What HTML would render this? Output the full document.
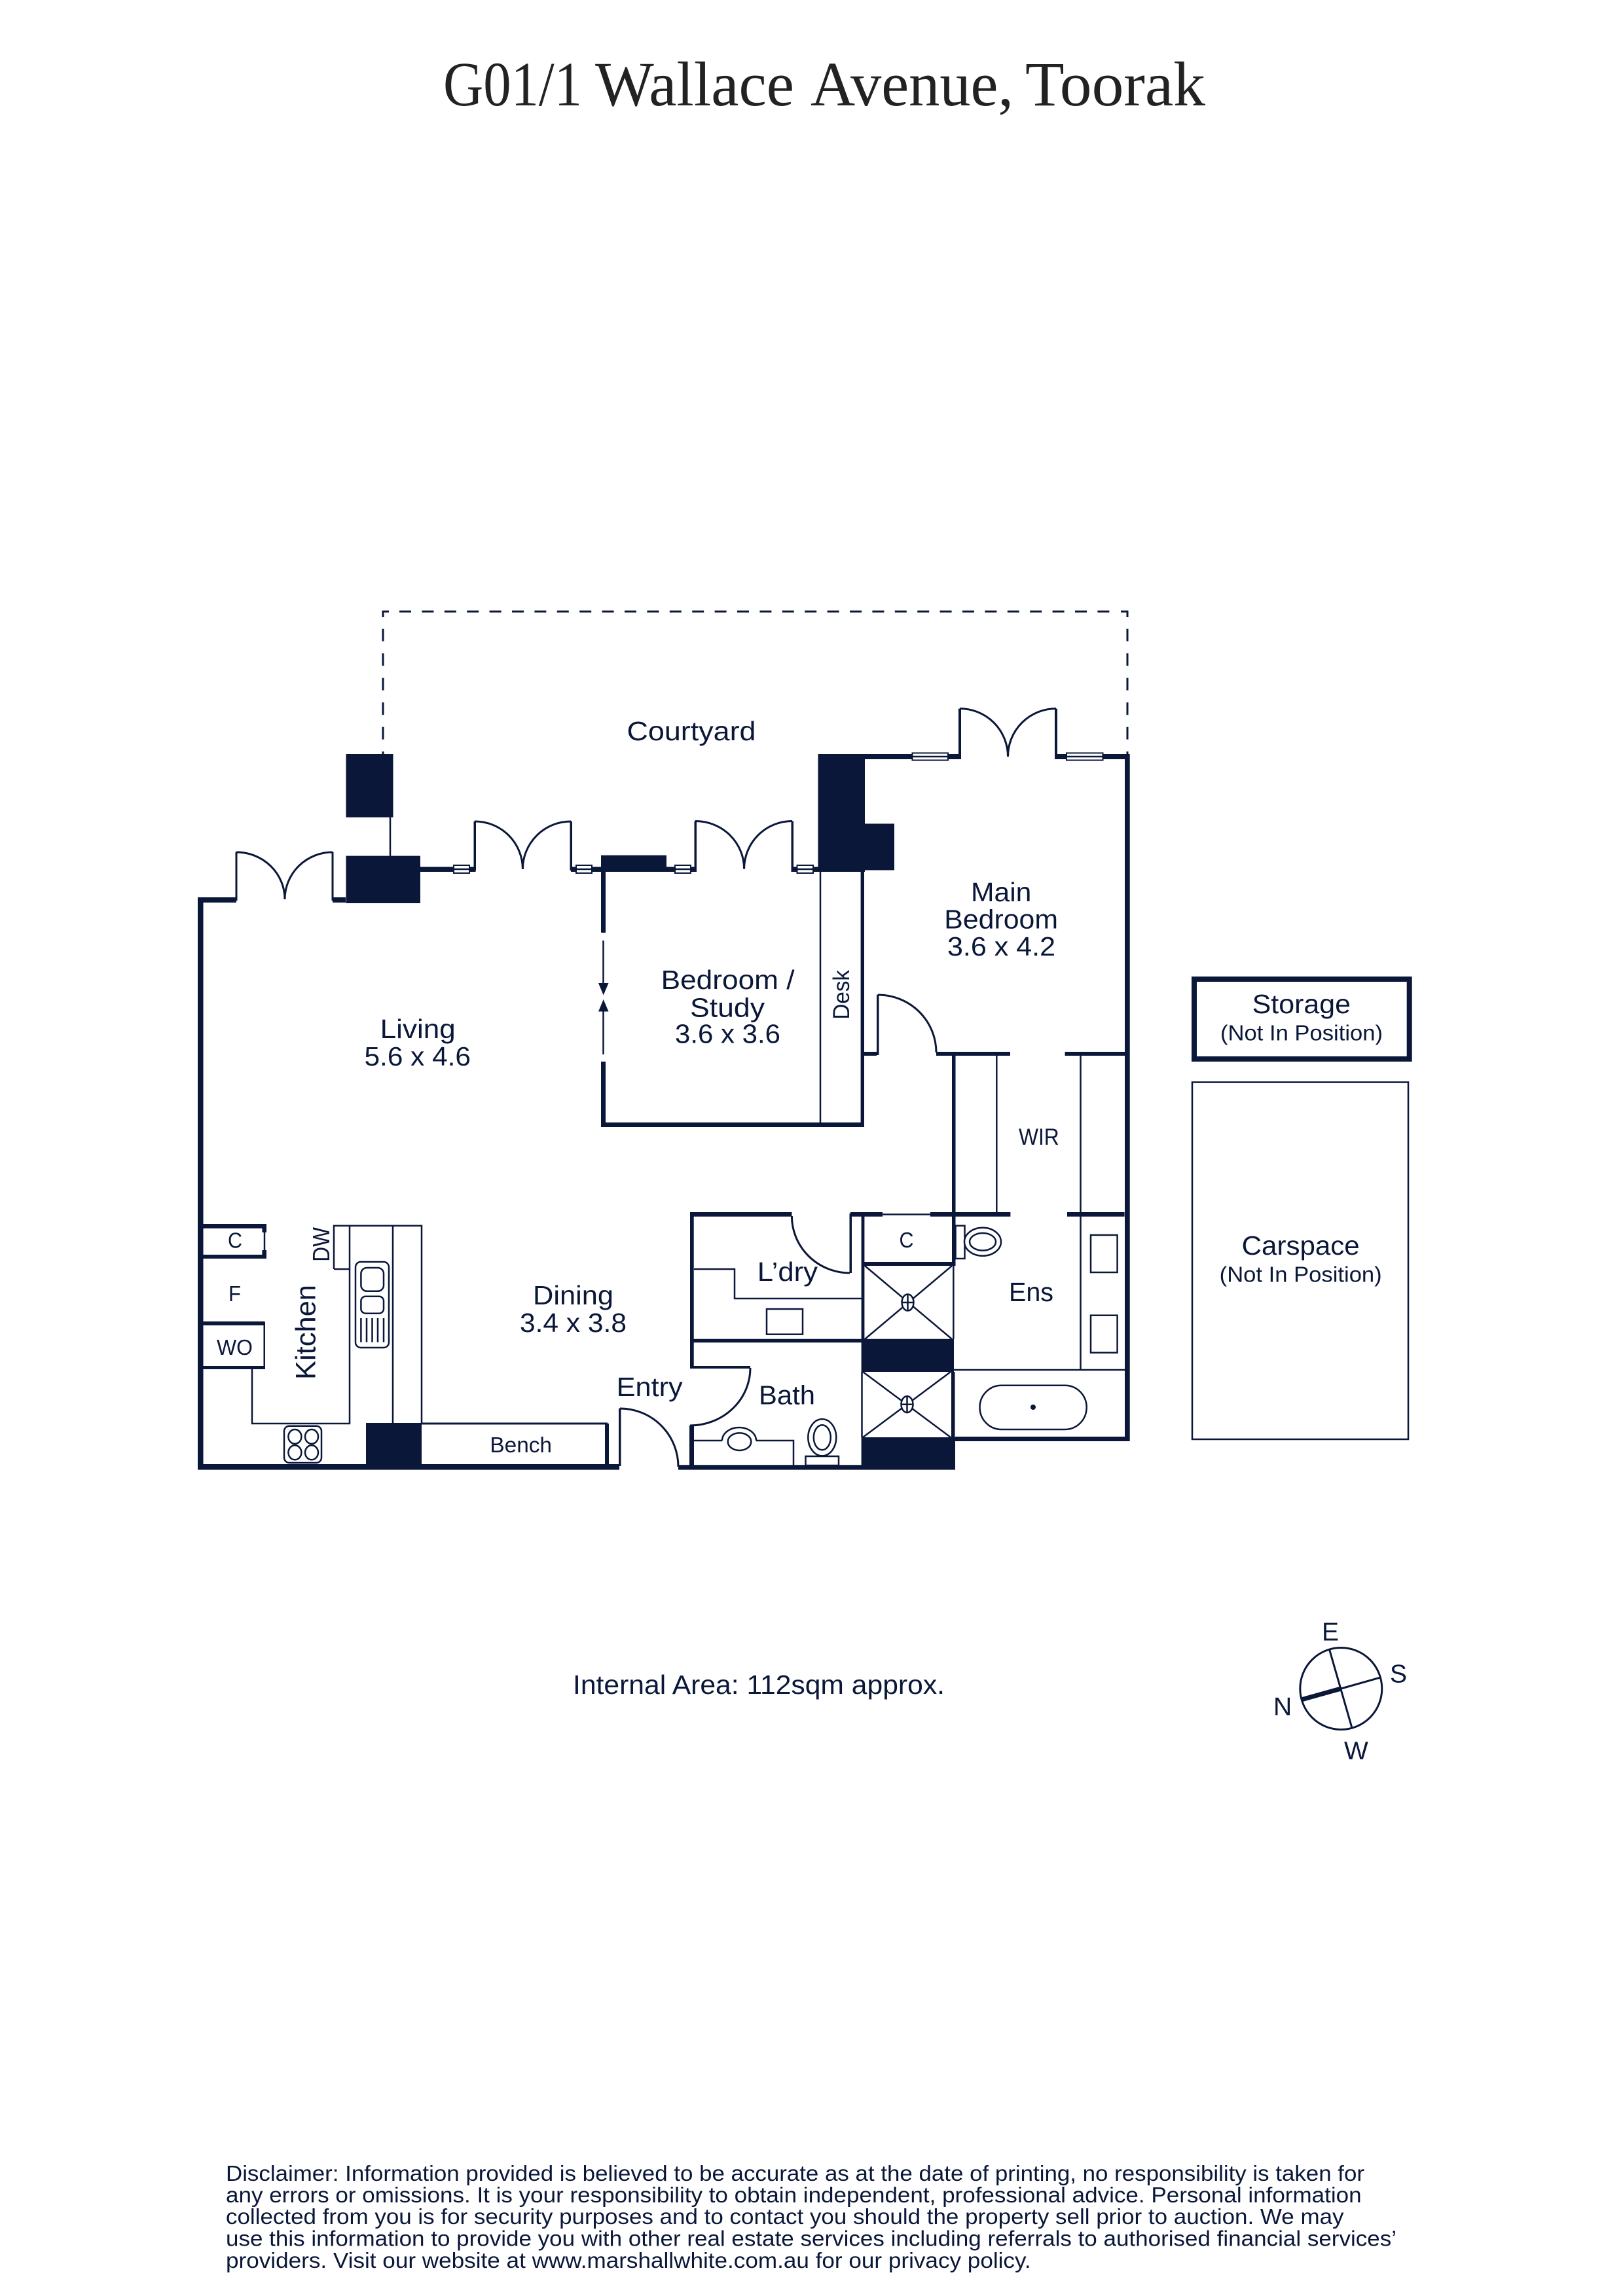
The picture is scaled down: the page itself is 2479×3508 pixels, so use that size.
<!DOCTYPE html>
<html>
<head>
<meta charset="utf-8">
<style>
html,body{margin:0;padding:0;background:#fff;width:2479px;height:3508px;overflow:hidden}
svg{display:block}
text{font-family:"Liberation Sans",sans-serif;fill:#0a1739;font-size:41px}
.w{fill:#0a1739;stroke:none}
.t{fill:none;stroke:#0a1739;stroke-width:2.5}
.m{fill:none;stroke:#0a1739;stroke-width:3}
.win{fill:#fff;stroke:#0a1739;stroke-width:2}
</style>
</head>
<body>
<svg xmlns="http://www.w3.org/2000/svg" width="2479" height="3508" viewBox="0 0 2479 3508">
<rect width="2479" height="3508" fill="#fff"/>

<!-- Title -->
<g style="font-family:'Liberation Serif',serif">
<text x="677" y="161" textLength="212" lengthAdjust="spacingAndGlyphs" style="font-family:'Liberation Serif',serif;font-size:96px;fill:#222">G01/1</text>
<text x="909" y="161" textLength="304" lengthAdjust="spacingAndGlyphs" style="font-family:'Liberation Serif',serif;font-size:96px;fill:#222">Wallace</text>
<text x="1238" y="161" textLength="310" lengthAdjust="spacingAndGlyphs" style="font-family:'Liberation Serif',serif;font-size:96px;fill:#222">Avenue,</text>
<text x="1566" y="161" textLength="275" lengthAdjust="spacingAndGlyphs" style="font-family:'Liberation Serif',serif;font-size:96px;fill:#222">Toorak</text>
</g>

<!-- Courtyard dashed -->
<path d="M610 934.300H1700" fill="none" stroke="#0a1739" stroke-width="3" stroke-dasharray="18 16.400"/>
<path d="M585 960.700V1152M1722 960.700V1152" fill="none" stroke="#0a1739" stroke-width="3" stroke-dasharray="19 18.500"/>
<path d="M585 943V934.300H594M1712 934.300H1722V943" fill="none" stroke="#0a1739" stroke-width="3"/>

<!-- Solid walls and pillars -->
<path class="w" d="
M302 1371H361V1379H310.500V2238H302Z
M302 2237H946V2245.600H302Z
M508 1371H528V1379H508Z
M359.500 1302H362.500V1376H359.500Z
M506.500 1302H509.500V1376H506.500Z
M528.500 1152H600.500V1248.700H528.500Z
M528.500 1307.600H642V1380H528.500Z
M642 1324.500H695V1332H642Z
M715 1324.500H726.500V1332H715Z
M723.500 1255H727V1330H723.500Z
M870.500 1255H874V1330H870.500Z
M872 1324.500H882V1332H872Z
M902 1324.500H918V1332H902Z
M918 1306.700H1018V1332H918Z
M1018 1324.500H1033V1332H1018Z
M1053 1324.500H1064V1332H1053Z
M1060.500 1254.500H1064V1330H1060.500Z
M1208.500 1254.500H1212V1330H1208.500Z
M1208.500 1324.500H1219V1332H1208.500Z
M1240 1324.500H1250V1332H1240Z
M1249.500 1152H1321V1332H1249.500Z
M1321 1258.500H1366V1329.500H1321Z
M1321 1152H1395V1160H1321Z
M1446 1152H1468V1160H1446Z
M1464 1082.600H1468V1156H1464Z
M1611 1082.600H1615V1156H1611Z
M1611 1152H1631V1160H1611Z
M1682 1152H1725.700V1160H1682Z
M1718 1152H1725.700V2202H1718Z
M918 1332H925V1425H918Z
M918 1622H925V1722H918Z
M918 1715H1320V1722H918Z
M1314.600 1332H1320V1722H1314.600Z
M1320 1607H1339V1613H1320Z
M1339 1519.600H1342.500V1612H1339Z
M1430 1607H1543V1613H1430Z
M1626.600 1607H1718V1613H1626.600Z
M1454 1613H1459.500V1934H1454Z
M1054 1852H1209.400V1858.700H1054Z
M1299 1852H1348V1858.700H1299Z
M1421 1852H1543.400V1858.700H1421Z
M1630 1852H1717.600V1858.700H1630Z
M1054 1852H1059.700V2090H1054Z
M1297.500 1854H1301V1945H1297.500Z
M1315.600 1856H1320.400V2046H1315.600Z
M1316 1928H1459.500V1934H1316Z
M1054 2045.700H1316V2051.300H1054Z
M1315.600 2045.700H1457V2096H1315.600Z
M1453 2096H1458.500V2245H1453Z
M1315.600 2196H1459V2245.600H1315.600Z
M1459 2195H1725.700V2202H1459Z
M1054 2087H1146V2091H1054Z
M1053 2178H1060V2245H1053Z
M1036 2238.300H1316V2245.600H1036Z
M945 2151.700H948.500V2240H945Z
M306 1870H407V1876.700H306Z
M306 1917H407V1923H306Z
M400.400 1876H407V1883H400.400Z
M400.400 1910H407V1917H400.400Z
M306 2019H404.500V2025H306Z
M306 2087H404.500V2092H306Z
M402.500 2020H405V2092H402.500Z
M559 2174H644V2245.600H559Z
M924 2175H930V2240H924Z
"/>

<!-- Door arcs -->
<path class="m" d="M361 1302A74 72 0 0 1 435 1374M508 1302A73 72 0 0 0 435 1374"/>
<path class="m" d="M725 1255A73 73 0 0 1 798.400 1328M872 1255A73.600 73 0 0 0 798.400 1328"/>
<path class="m" d="M1062 1254.500A74.500 73 0 0 1 1136.600 1327.700M1210 1254.500A73.400 73 0 0 0 1136.600 1327.700"/>
<path class="m" d="M1466 1082.600A73.500 73.400 0 0 1 1539.500 1156M1613 1082.600A73.500 73.400 0 0 0 1539.500 1156"/>
<path class="m" d="M1341 1520A89 88 0 0 1 1430 1608"/>
<path class="m" d="M1209.400 1858A89 87 0 0 0 1298 1945"/>
<path class="m" d="M1146 2090A92 88 0 0 1 1054 2178"/>
<path class="m" d="M947 2152A89 89 0 0 1 1036 2241"/>

<!-- Windows -->
<rect class="win" x="693" y="1322" width="24" height="12"/><path class="t" d="M693 1328H717"/>
<rect class="win" x="880" y="1322" width="24" height="12"/><path class="t" d="M880 1328H904"/>
<rect class="win" x="1031" y="1322" width="24" height="12"/><path class="t" d="M1031 1328H1055"/>
<rect class="win" x="1217.500" y="1322" width="24.500" height="12"/><path class="t" d="M1217 1328H1242"/>
<rect class="win" x="1393.500" y="1150.500" width="54.500" height="11"/><path class="t" d="M1394 1156H1448"/>
<rect class="win" x="1629" y="1150.500" width="55.500" height="11"/><path class="t" d="M1629 1156H1684"/>

<!-- Thin lines -->
<path class="t" d="M596 1248.700V1307.600"/>
<path class="t" d="M921.500 1437V1503M921.500 1545V1611"/>
<path class="w" d="M914 1502H929.500L921.700 1520.500ZM914 1545.500H929.500L921.700 1527Z"/>
<path class="t" d="M1253 1332V1716"/>
<path class="t" d="M1522.300 1613V1853"/>
<path class="t" d="M1650.500 1613V2093"/>
<path class="t" d="M1348 1855.500H1421"/>
<path class="t" d="M1060 1939H1122V1984H1316"/>
<rect class="t" x="1171" y="2000" width="55" height="38.700"/>
<path class="t" d="M1456.300 1934V2046"/>
<path class="t" d="M1457 2093H1718"/>
<path class="t" d="M1316.500 2096V2196"/>

<!-- Showers -->
<path class="t" d="M1321 1934L1454 2046M1454 1934L1321 2046"/>
<ellipse cx="1386.500" cy="1990" rx="9" ry="12.500" fill="#fff" stroke="#0a1739" stroke-width="2.500"/>
<path class="t" d="M1377.500 1990H1395.500M1386.500 1977.500V2002.500"/>
<path class="t" d="M1318 2096L1452 2196M1452 2096L1318 2196"/>
<ellipse cx="1385.500" cy="2145.700" rx="9" ry="12.500" fill="#fff" stroke="#0a1739" stroke-width="2.500"/>
<path class="t" d="M1376.500 2145.700H1394.500M1385.500 2133V2158"/>

<!-- Ensuite fixtures -->
<rect class="t" x="1459.500" y="1872.700" width="14" height="50.300"/>
<ellipse class="t" cx="1501" cy="1897.300" rx="28" ry="21.500" style="fill:#fff"/>
<ellipse class="t" cx="1501" cy="1897.300" rx="20" ry="13.300"/>
<rect class="t" x="1666" y="1887" width="40.600" height="57"/>
<rect class="t" x="1666" y="2009.700" width="40.600" height="57"/>
<rect class="t" x="1496.500" y="2116.700" width="163.200" height="67.300" rx="33" ry="33.600"/>
<circle cx="1578" cy="2150" r="4" fill="#0a1739"/>

<!-- Bath fixtures -->
<path class="t" d="M1060 2201H1103M1155 2201H1212V2240"/>
<path class="t" d="M1103 2201A26 20 0 0 1 1155 2201"/>
<ellipse class="t" cx="1129.500" cy="2202.700" rx="17.800" ry="13.300"/>
<ellipse class="t" cx="1255.800" cy="2196.300" rx="21.500" ry="28"/>
<ellipse class="t" cx="1255.800" cy="2196.300" rx="13" ry="19"/>
<rect class="t" x="1230.500" y="2225" width="50.500" height="14"/>

<!-- Kitchen -->
<path class="t" d="M404 1883V1910"/>
<path class="t" d="M385 2092V2175H534V1872.700"/>
<path class="t" d="M510 1939H534M510 1939V1872.700H644V2175M600 1872.700V2175"/>
<rect class="t" x="543" y="1928" width="51" height="131" rx="8"/>
<rect class="t" x="551.400" y="1937" width="34.600" height="35.700" rx="9"/>
<rect class="t" x="551.400" y="1980.700" width="34.600" height="26" rx="7"/>
<path class="t" d="M551.400 2014V2050.700M560 2014V2050.700M568.500 2014V2050.700M577 2014V2050.700M586 2014V2050.700"/>
<rect class="t" x="434" y="2178.700" width="57" height="56.300" rx="8"/>
<ellipse class="t" cx="450.400" cy="2195" rx="10" ry="11"/>
<ellipse class="t" cx="476" cy="2195" rx="10" ry="11"/>
<ellipse class="t" cx="450.400" cy="2219.300" rx="10" ry="11"/>
<ellipse class="t" cx="476" cy="2219.300" rx="10" ry="11"/>
<path class="m" d="M644 2175H928"/>

<!-- Storage and Carspace -->
<rect x="1824" y="1496" width="328.700" height="122" fill="none" stroke="#0a1739" stroke-width="8"/>
<rect x="1821" y="1653.500" width="330" height="545.500" fill="none" stroke="#0a1739" stroke-width="2.500"/>

<!-- Compass -->
<circle cx="2048.300" cy="2580" r="62.500" fill="none" stroke="#0a1739" stroke-width="3"/>
<path d="M2030.700 2520.700L2065 2640M2048.300 2580L2107.300 2563.300" fill="none" stroke="#0a1739" stroke-width="3"/>
<path d="M1988.300 2596.700L2048.300 2580" fill="none" stroke="#0a1739" stroke-width="7"/>

<!-- Room labels -->
<text x="957.500" y="1131" textLength="197" lengthAdjust="spacingAndGlyphs">Courtyard</text>
<text x="580.700" y="1586" textLength="115" lengthAdjust="spacingAndGlyphs">Living</text>
<text x="556.500" y="1628" textLength="162.500" lengthAdjust="spacingAndGlyphs">5.6 x 4.6</text>
<text x="1009.600" y="1511" textLength="204" lengthAdjust="spacingAndGlyphs">Bedroom /</text>
<text x="1054" y="1553.600" textLength="114" lengthAdjust="spacingAndGlyphs">Study</text>
<text x="1031" y="1593.700" textLength="161" lengthAdjust="spacingAndGlyphs">3.6 x 3.6</text>
<text x="1483" y="1377" textLength="92.400" lengthAdjust="spacingAndGlyphs">Main</text>
<text x="1442.300" y="1418.700" textLength="173.700" lengthAdjust="spacingAndGlyphs">Bedroom</text>
<text x="1447" y="1460" textLength="165" lengthAdjust="spacingAndGlyphs">3.6 x 4.2</text>
<text transform="translate(1297 1557.600) rotate(-90)" textLength="75.600" lengthAdjust="spacingAndGlyphs" style="font-size:35px">Desk</text>
<text x="1556" y="1749" textLength="61.700" lengthAdjust="spacingAndGlyphs" style="font-size:35px">WIR</text>
<text transform="translate(481.500 2108) rotate(-90)" textLength="145" lengthAdjust="spacingAndGlyphs" style="font-size:43px">Kitchen</text>
<text transform="translate(503 1927.700) rotate(-90)" textLength="52.700" lengthAdjust="spacingAndGlyphs" style="font-size:36px">DW</text>
<text x="348" y="1906.500" textLength="22" lengthAdjust="spacingAndGlyphs" style="font-size:33px">C</text>
<text x="349" y="1988" textLength="19" lengthAdjust="spacingAndGlyphs" style="font-size:33px">F</text>
<text x="331" y="2070" textLength="55" lengthAdjust="spacingAndGlyphs" style="font-size:33px">WO</text>
<text x="814" y="1993" textLength="123" lengthAdjust="spacingAndGlyphs">Dining</text>
<text x="794" y="2035" textLength="163" lengthAdjust="spacingAndGlyphs">3.4 x 3.8</text>
<text x="748.400" y="2219" textLength="94.600" lengthAdjust="spacingAndGlyphs" style="font-size:33px">Bench</text>
<text x="941.700" y="2133" textLength="101" lengthAdjust="spacingAndGlyphs">Entry</text>
<text x="1156.800" y="1957" textLength="92.200" lengthAdjust="spacingAndGlyphs">L’dry</text>
<text x="1373.500" y="1906" textLength="22" lengthAdjust="spacingAndGlyphs" style="font-size:33px">C</text>
<text x="1541" y="1988" textLength="68" lengthAdjust="spacingAndGlyphs">Ens</text>
<text x="1159" y="2145.700" textLength="86" lengthAdjust="spacingAndGlyphs">Bath</text>
<text x="1912.700" y="1548" textLength="150.300" lengthAdjust="spacingAndGlyphs">Storage</text>
<text x="1864" y="1589.500" textLength="248" lengthAdjust="spacingAndGlyphs" style="font-size:33px">(Not In Position)</text>
<text x="1896.700" y="1917" textLength="180" lengthAdjust="spacingAndGlyphs">Carspace</text>
<text x="1862.700" y="1958.400" textLength="248" lengthAdjust="spacingAndGlyphs" style="font-size:33px">(Not In Position)</text>

<!-- Area -->
<text x="875" y="2588" textLength="568" lengthAdjust="spacingAndGlyphs">Internal Area: 112sqm approx.</text>

<!-- Compass labels -->
<text x="2019" y="2506.700" style="font-size:39px">E</text>
<text x="2123" y="2570.700" style="font-size:39px">S</text>
<text x="1945" y="2620.700" style="font-size:39px">N</text>
<text x="2053" y="2688" style="font-size:39px">W</text>

<!-- Disclaimer -->
<text x="345" y="3332" textLength="1739" lengthAdjust="spacingAndGlyphs" style="font-size:33px">Disclaimer: Information provided is believed to be accurate as at the date of printing, no responsibility is taken for</text>
<text x="345" y="3365" textLength="1734.600" lengthAdjust="spacingAndGlyphs" style="font-size:33px">any errors or omissions. It is your responsibility to obtain independent, professional advice. Personal information</text>
<text x="345" y="3398" textLength="1707.500" lengthAdjust="spacingAndGlyphs" style="font-size:33px">collected from you is for security purposes and to contact you should the property sell prior to auction. We may</text>
<text x="345" y="3431.500" textLength="1788" lengthAdjust="spacingAndGlyphs" style="font-size:33px">use this information to provide you with other real estate services including referrals to authorised financial services’</text>
<text x="345" y="3465" textLength="1229.700" lengthAdjust="spacingAndGlyphs" style="font-size:33px">providers. Visit our website at www.marshallwhite.com.au for our privacy policy.</text>
</svg>
</body>
</html>
